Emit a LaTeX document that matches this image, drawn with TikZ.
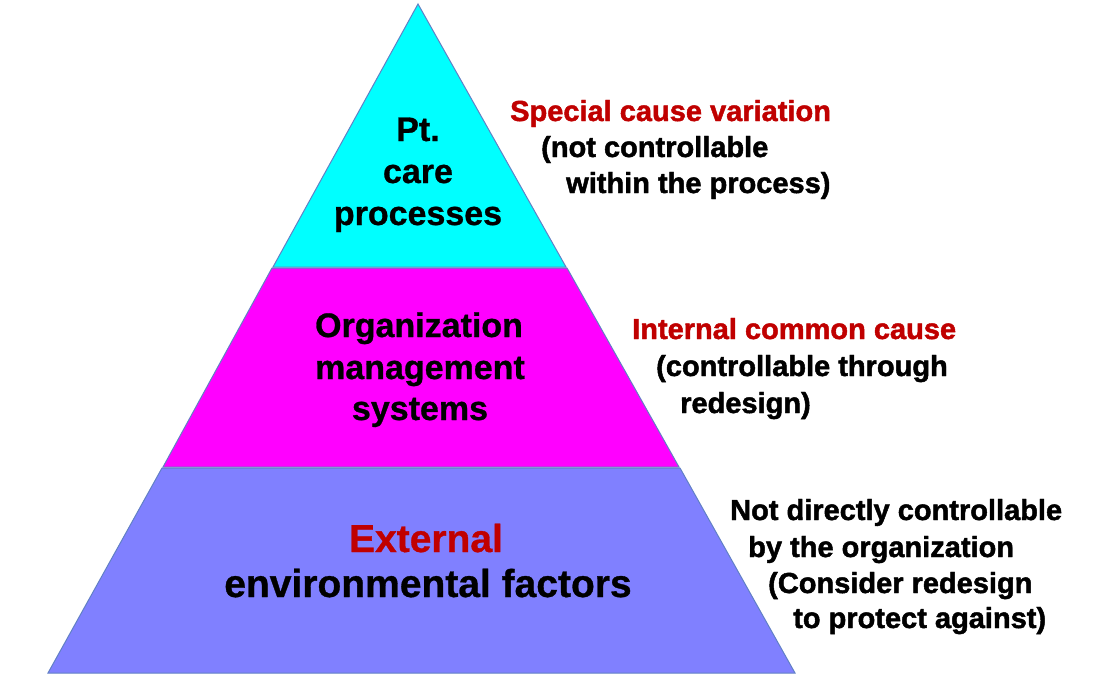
\documentclass[tikz,border=0pt]{standalone}
\usepackage{fontspec}
\setmainfont{Liberation Sans}
\newfontfamily\heavyfont[FakeBold=1.6]{Liberation Sans Bold}
\newfontfamily\pyrfont[FakeBold=0.8]{Liberation Sans Bold}
\definecolor{edgeblue}{RGB}{97,128,197}
\definecolor{cyanfill}{RGB}{0,255,255}
\definecolor{magfill}{RGB}{255,0,255}
\definecolor{violetfill}{RGB}{128,128,255}
\definecolor{darkred}{RGB}{192,0,0}
\tikzset{
  layer/.style={draw=edgeblue, line width=1pt, line join=miter},
  pyrtext/.style={anchor=base, inner sep=0pt, font=\pyrfont\fontsize{34}{40}\selectfont},
  bigtext/.style={anchor=base, inner sep=0pt, font=\pyrfont\fontsize{39}{46}\selectfont},
  sidetext/.style={anchor=base west, inner sep=0pt, font=\heavyfont\fontsize{29}{35}\selectfont},
}
\begin{document}
\begin{tikzpicture}[x=1pt,y=-1pt]
\useasboundingbox (0,0) rectangle (1093,680);
\fill[white] (0,0) rectangle (1093,680);
% layers
\coordinate (apex) at (418,4);
\coordinate (tl) at (273,267);
\coordinate (tr) at (566,267);
\coordinate (ml) at (272,268);
\coordinate (mr) at (567,268);
\coordinate (mbl) at (163,467);
\coordinate (mbr) at (679,467);
\coordinate (bl) at (162,468);
\coordinate (br) at (680,468);
\coordinate (bbl) at (48,673);
\coordinate (bbr) at (795,673);
\filldraw[layer, fill=cyanfill] (apex) -- (tr) -- (tl) -- cycle;
\filldraw[layer, fill=magfill] (ml) -- (mr) -- (mbr) -- (mbl) -- cycle;
\filldraw[layer, fill=violetfill] (bl) -- (br) -- (bbr) -- (bbl) -- cycle;
% pyramid text
\node[pyrtext] (p1) at (418,141) {Pt.};
\node[pyrtext] (p2) at (418,183) {care};
\node[pyrtext] (p3) at (418,225) {processes};
\node[pyrtext] (o1) at (419,337) {Organization};
\node[pyrtext] (o2) at (420,379) {management};
\node[pyrtext] (o3) at (420,420) {systems};
\node[bigtext, text=darkred] (e1) at (426,552) {External};
\node[bigtext] (e2) at (428,597) {environmental factors};
% side text
\node[sidetext, text=darkred] (s1) at (510,121) {Special cause variation};
\node[sidetext] (s2) at (541,157) {(not controllable};
\node[sidetext] (s3) at (566,193) {within the process)};
\node[sidetext, text=darkred] (i1) at (632,339) {Internal common cause};
\node[sidetext] (i2) at (656,376) {(controllable through};
\node[sidetext] (i3) at (680,413) {redesign)};
\node[sidetext] (n1) at (730,520) {Not directly controllable};
\node[sidetext] (n2) at (748,557) {by the organization};
\node[sidetext] (n3) at (768,593) {(Consider redesign};
\node[sidetext] (n4) at (793,628) {to protect against)};
\end{tikzpicture}
\end{document}
